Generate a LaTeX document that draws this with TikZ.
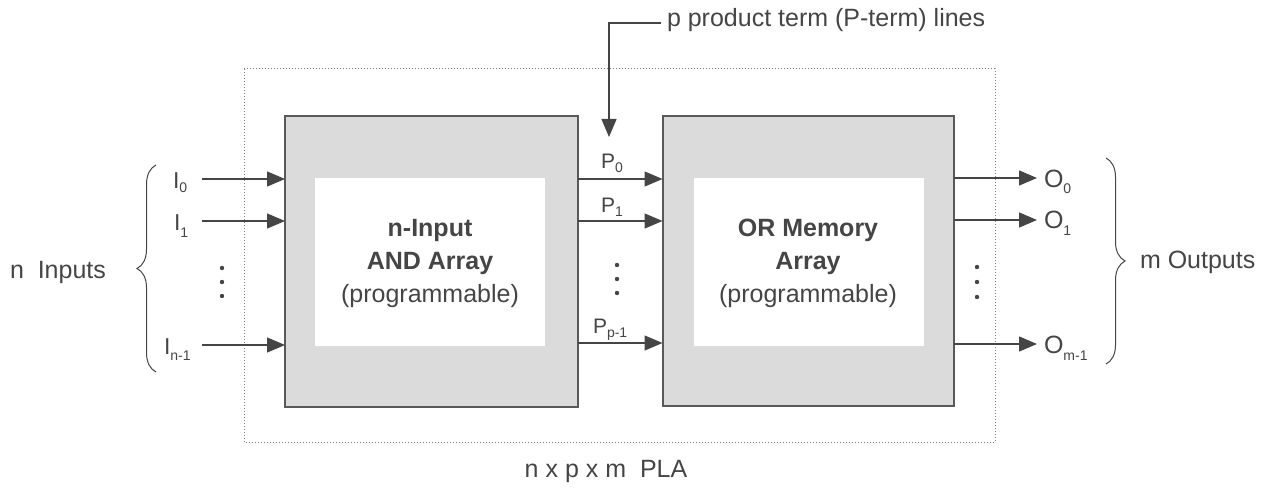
\documentclass[tikz,border=0pt]{standalone}
\usepackage{fontspec}
\setmainfont{Liberation Sans}
\usetikzlibrary{arrows.meta,decorations.pathreplacing}
\definecolor{ink}{gray}{0.27}
\definecolor{boxfill}{gray}{0.86}
\definecolor{boxline}{gray}{0.35}
\newcommand{\sbs}[2]{\raisebox{-#2}{\fontsize{14}{14}\selectfont #1}}
\begin{document}
\begin{tikzpicture}[x=1pt,y=-1pt,
  every node/.style={text=ink,inner sep=0pt,outer sep=0pt},
  txt/.style={font=\fontsize{25}{33}\selectfont},
  lbl/.style={font=\fontsize{23}{23}\selectfont},
  plbl/.style={font=\fontsize{21}{21}\selectfont},
  arr/.style={draw=ink,line width=1.3pt,-{Triangle[length=18pt,width=15pt]}},
  block/.style={draw=boxline,line width=2pt,fill=boxfill},
  inner/.style={fill=white},
  dotbox/.style={draw=ink!70,dotted,line width=1pt},
  bracestyle/.style={draw=ink,line width=1pt,decorate,decoration={brace,amplitude=19pt}},
  dot/.style={fill=ink}]
\useasboundingbox (0,0) rectangle (1269,492);

% outer dotted PLA box
\draw[dotbox] (244,69) rectangle (995,442);
\node[txt,anchor=base] (pla) at (606,477) {n x p x m\ \ PLA};

% blocks
\node[block,minimum width=293pt,minimum height=290pt] (and) at (431.5,261.5) {};
\node[inner,minimum width=230pt,minimum height=168pt] (andin) at (430,261.5) {};
\node[txt,align=center] (andtxt) at (430,263) {\textbf{n-Input}\\\textbf{AND Array}\\(programmable)};

\node[block,minimum width=291pt,minimum height=290pt] (or) at (808,261) {};
\node[inner,minimum width=230pt,minimum height=168pt] (orin) at (809,262) {};
\node[txt,align=center] (ortxt) at (808,263) {\textbf{OR Memory}\\\textbf{Array}\\(programmable)};

% inputs
\coordinate (i0s) at (202,179);
\coordinate (i1s) at (202,221);
\coordinate (ins) at (202,345);
\draw[arr] (i0s) -- (i0s -| and.west);
\draw[arr] (i1s) -- (i1s -| and.west);
\draw[arr] (ins) -- (ins -| and.west);
\node[lbl,anchor=base west] (i0) at (173,188) {I\sbs{0}{5pt}};
\node[lbl,anchor=base west] (i1) at (174,230) {I\sbs{1}{7pt}};
\node[lbl,anchor=base west] (in) at (164,354) {I\sbs{n-1}{6pt}};
\fill[dot] (222,268) circle (2.2pt) (222,282) circle (2.2pt) (222,296) circle (2.2pt);

\coordinate (lbt) at (156,165);
\coordinate (lbb) at (156,372);
\draw[bracestyle] (lbb) -- (lbt);
\node[txt,anchor=base west] (nin) at (10,278) {n\ \ Inputs};

% product terms
\coordinate (p0s) at (and.east |- 0,179);
\coordinate (p1s) at (and.east |- 0,221);
\coordinate (pns) at (and.east |- 0,343);
\draw[arr] (p0s) -- (p0s -| or.west);
\draw[arr] (p1s) -- (p1s -| or.west);
\draw[arr] (pns) -- (pns -| or.west);
\node[plbl,anchor=base west] (p0) at (601,168) {P\sbs{0}{4pt}};
\node[plbl,anchor=base west] (p1) at (601,212) {P\sbs{1}{4pt}};
\node[plbl,anchor=base west] (pn) at (593,333) {P\sbs{p-1}{4pt}};
\fill[dot] (617,265) circle (2.2pt) (617,279) circle (2.2pt) (617,293) circle (2.2pt);

\node[txt,anchor=base west] (ptl) at (667,27) {p product term (P-term) lines};
\coordinate (ptip) at (609,137);
\draw[arr] ([xshift=-6pt]ptl.west |- 0,23) -| (ptip);

% outputs
\coordinate (o0s) at (or.east |- 0,178);
\coordinate (o1s) at (or.east |- 0,220);
\coordinate (ons) at (or.east |- 0,344);
\coordinate (o0e) at (1037,178);
\draw[arr] (o0s) -- (o0s -| o0e);
\draw[arr] (o1s) -- (o1s -| o0e);
\draw[arr] (ons) -- (ons -| o0e);
\node[txt,anchor=base west] (o0) at (1044,187) {O\sbs{0}{6pt}};
\node[txt,anchor=base west] (o1) at (1044,228) {O\sbs{1}{7pt}};
\node[txt,anchor=base west] (on) at (1044,353) {O\sbs{m-1}{7pt}};
\fill[dot] (977,267) circle (2.2pt) (977,282) circle (2.2pt) (977,297) circle (2.2pt);

\coordinate (rbt) at (1106,158);
\coordinate (rbb) at (1106,364);
\draw[bracestyle] (rbt) -- (rbb);
\node[txt,anchor=base west] (mout) at (1140,268) {m Outputs};
\end{tikzpicture}
\end{document}
